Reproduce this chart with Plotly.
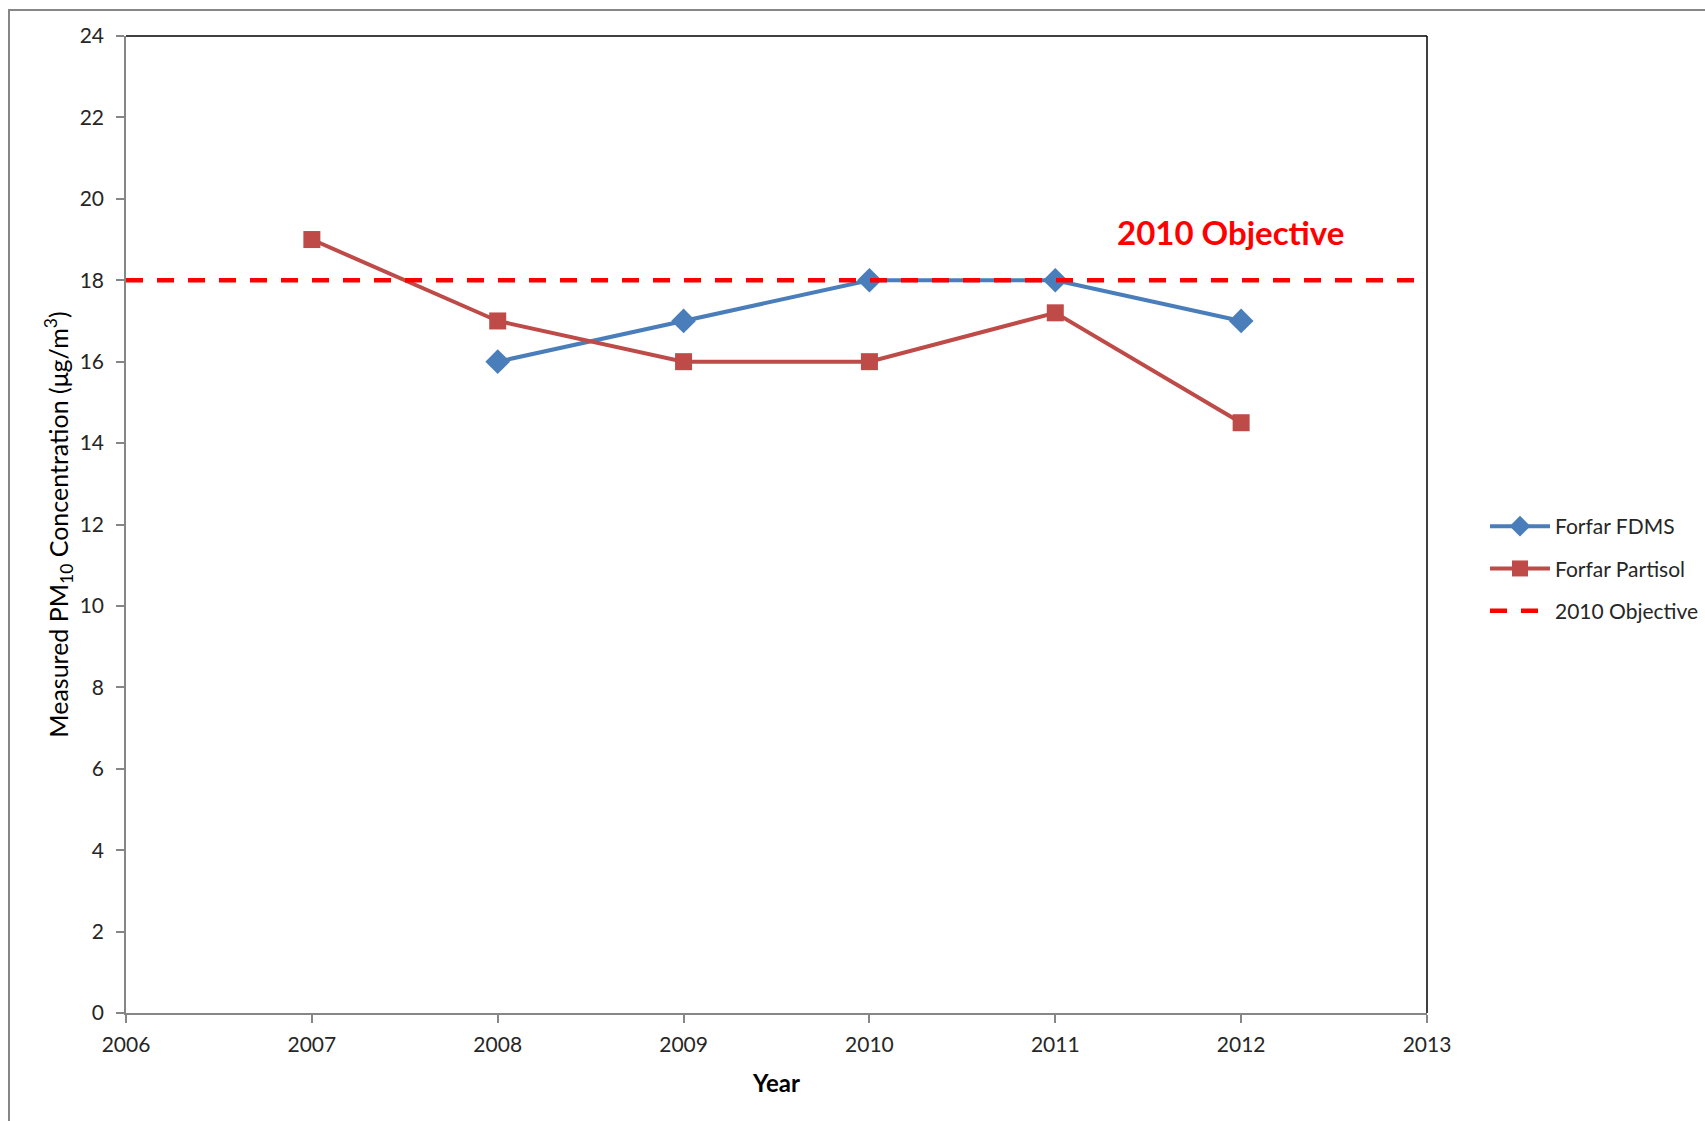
import plotly.graph_objects as go

years_fdms = [2008, 2009, 2010, 2011, 2012]
fdms = [16, 17, 18, 18, 17]
years_partisol = [2007, 2008, 2009, 2010, 2011, 2012]
partisol = [19, 17, 16, 16, 17.2, 14.5]
objective_years = [2006, 2013]
objective = [18, 18]
x_ticks = [2006, 2007, 2008, 2009, 2010, 2011, 2012, 2013]
y_ticks = list(range(0, 25, 2))

FONT = "Lato"
W, H = 1705, 1121
L, R, T, B = 126, 278, 36, 108
pw, ph = W - L - R, H - T - B

fig = go.Figure()
fig.add_trace(go.Scatter(
    x=years_fdms, y=fdms, name="Forfar FDMS", mode="lines+markers", legendgroup="a",
    line=dict(color="#4A7EBB", width=4),
    marker=dict(symbol="diamond", size=19, color="#4A7EBB"),
))
fig.add_trace(go.Scatter(
    x=years_partisol, y=partisol, name="Forfar Partisol", mode="lines+markers", legendgroup="b",
    line=dict(color="#BE4B48", width=4),
    marker=dict(symbol="square", size=17, color="#BE4B48"),
))
fig.add_trace(go.Scatter(
    x=objective_years, y=objective, name="2010 Objective", mode="lines", legendgroup="c",
    line=dict(color="#FF0000", width=4.5, dash="17px,14px"),
))

fig.add_annotation(
    x=(1230 - L) / pw, y=1 - (232 - T) / ph, xref="paper", yref="paper", showarrow=False,
    text="<b>2010 Objective</b>", font=dict(family=FONT, size=33, color="#FF0000"),
    xanchor="center", yanchor="middle",
)

# outer chart border
fig.add_shape(type="rect", xref="paper", yref="paper",
              x0=(9 - L) / pw, x1=(1760 - L) / pw,
              y0=1 - (1180 - T) / ph, y1=1 + (T - 10) / ph,
              line=dict(color="#868686", width=2), layer="below")
# plot area border top/right in black
fig.add_shape(type="line", xref="paper", yref="paper", x0=0, x1=1, y0=1, y1=1,
              line=dict(color="#000000", width=1.5))
fig.add_shape(type="line", xref="paper", yref="paper", x0=1, x1=1, y0=0, y1=1,
              line=dict(color="#000000", width=1.5))

fig.update_layout(
    width=W, height=H,
    margin=dict(l=L, r=R, t=T, b=B, autoexpand=False),
    paper_bgcolor="white", plot_bgcolor="white",
    font=dict(family=FONT, size=21, color="#262626"),
    showlegend=True,
    legend=dict(
        x=(1485 - L) / pw, y=1 - (506 - T) / ph, xanchor="left", yanchor="top",
        font=dict(family=FONT, size=21, color="#262626"),
        itemwidth=60, tracegroupgap=12, bgcolor="rgba(0,0,0,0)",
    ),
    xaxis=dict(
        range=[2006, 2013], tickvals=x_ticks, ticktext=[str(v) for v in x_ticks],
        showgrid=False, zeroline=False, showline=True, linecolor="#868686", linewidth=1.5,
        ticks="outside", ticklen=8, tickcolor="#868686", tickwidth=1.5,
        tickfont=dict(family=FONT, size=21, color="#262626"),
        ticklabelstandoff=4,
        title=dict(text="<b>Year</b>", font=dict(family=FONT, size=24, color="#000000"), standoff=20),
    ),
    yaxis=dict(
        range=[0, 24], tickvals=y_ticks, ticktext=[str(v) for v in y_ticks],
        showgrid=False, zeroline=False, showline=True, linecolor="#868686", linewidth=1.5,
        ticks="outside", ticklen=8, tickcolor="#868686", tickwidth=1.5,
        tickfont=dict(family=FONT, size=21, color="#262626"),
        ticklabelstandoff=8,
        title=dict(text="Measured PM<sub>10</sub> Concentration (μg/m<sup>3</sup>)",
                   font=dict(family=FONT, size=25, color="#000000"), standoff=4),
    ),
)

fig.write_html("out.html")
